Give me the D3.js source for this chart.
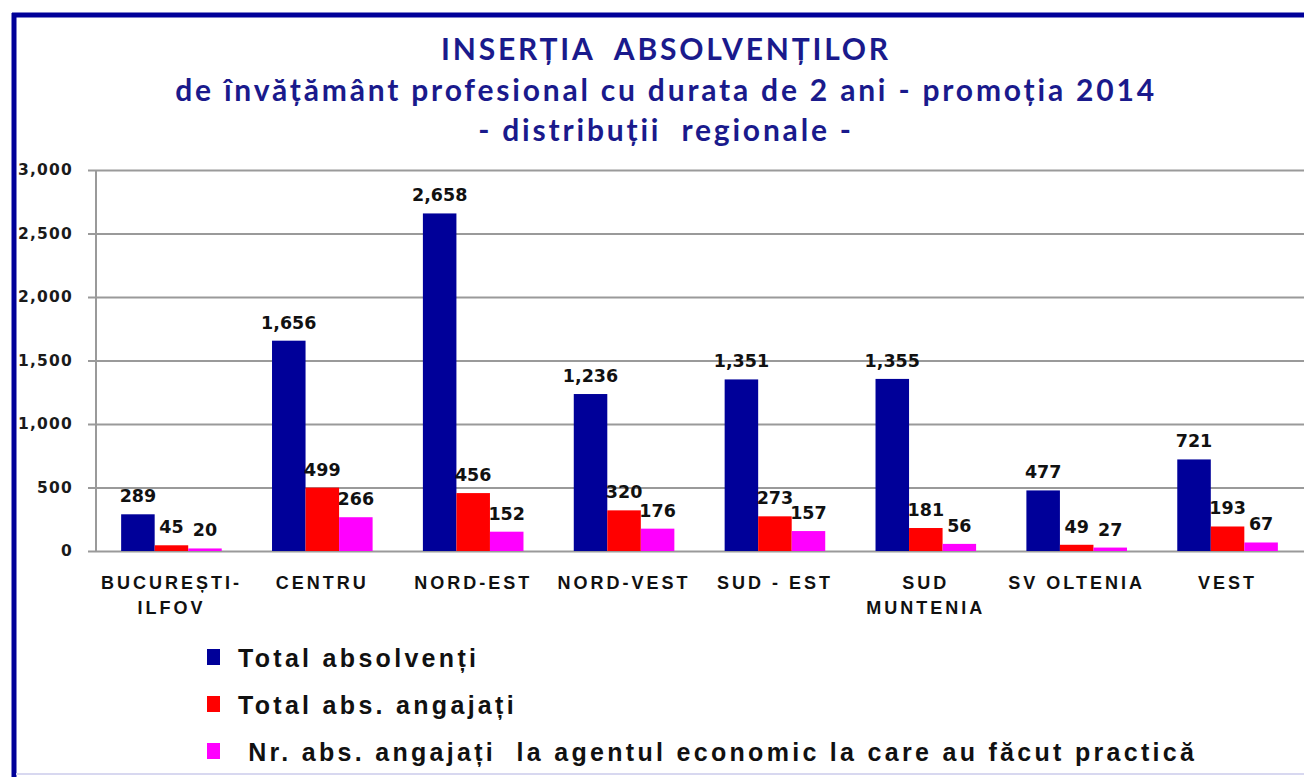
<!DOCTYPE html>
<html>
<head>
<meta charset="utf-8">
<script src="https://cdn.jsdelivr.net/npm/d3@7"></script>
<style>
  body { margin: 0; background: #fff; }
  svg { display: block; }
</style>
</head>
<body>
<svg id="chart"></svg>
<script>
const regions = [
  ['BUCUREȘTI-', 'ILFOV'],
  ['CENTRU'],
  ['NORD-EST'],
  ['NORD-VEST'],
  ['SUD - EST'],
  ['SUD', 'MUNTENIA'],
  ['SV OLTENIA'],
  ['VEST']
];
const totalAbsolventi = [289, 1656, 2658, 1236, 1351, 1355, 477, 721];
const totalAngajati = [45, 499, 456, 320, 273, 181, 49, 193];
const angajatiPractica = [20, 266, 152, 176, 157, 56, 27, 67];
const seriesNames = [
  'Total absolvenți',
  'Total abs. angajați',
  ' Nr. abs. angajați  la agentul economic la care au făcut practică'
];
const yTicks = [0, 500, 1000, 1500, 2000, 2500, 3000];
const titleLines = [
  'INSERȚIA  ABSOLVENȚILOR',
  'de învățământ profesional cu durata de 2 ani - promoția 2014',
  '- distribuții  regionale -'
];

const width = 1304, height = 777;
const colors = ['#000099', '#ff0000', '#ff00ff'];
const seriesData = [totalAbsolventi, totalAngajati, angajatiPractica];
const keys = regions.map(r => r.join(' '));

const svg = d3.select('#chart')
              .attr('width', width)
              .attr('height', height);

// frame
svg.append('line')
   .attr('x1', 14).attr('y1', 13).attr('x2', 14).attr('y2', 777)
   .attr('stroke', '#000099').attr('stroke-width', 5);
svg.append('line')
   .attr('x1', 12).attr('y1', 15).attr('x2', 1304).attr('y2', 15)
   .attr('stroke', '#000099').attr('stroke-width', 5);
svg.append('line')
   .attr('x1', 16).attr('y1', 774).attr('x2', 1304).attr('y2', 774)
   .attr('stroke', '#d8d8f0').attr('stroke-width', 2);

// title
svg.append('g')
   .selectAll('text')
   .data(titleLines)
   .enter()
   .append('text')
   .attr('x', 666)
   .attr('y', (d, i) => 60 + i * 40.5)
   .attr('text-anchor', 'middle')
   .attr('font-family', 'Lato, sans-serif')
   .attr('font-weight', 'bold')
   .attr('font-size', 30)
   .attr('letter-spacing', 2.8)
   .attr('fill', '#1a1a8c')
   .attr('xml:space', 'preserve')
   .style('white-space', 'pre')
   .text(d => d);

const plotLeft = 96, plotRight = 1303, plotTop = 170, plotBottom = 551;

const x = d3.scaleBand()
            .domain(keys)
            .range([plotLeft, plotRight])
            .paddingInner(1 / 3)
            .paddingOuter(1 / 6);

const xSeries = d3.scaleBand()
                  .domain([0, 1, 2])
                  .range([0, x.bandwidth()]);

const y = d3.scaleLinear()
            .domain([0, 3000])
            .range([plotBottom, plotTop]);

// grid + y axis
const yAxis = d3.axisLeft(y)
                .tickValues(yTicks)
                .tickFormat(d3.format(','))
                .tickSize(-(width - plotLeft))
                .tickPadding(23);

const yAxisG = svg.append('g')
                  .attr('transform', 'translate(' + plotLeft + ',0)')
                  .call(yAxis);
yAxisG.select('.domain').remove();
yAxisG.selectAll('.tick line')
      .attr('x1', -8)
      .attr('stroke', '#9a9a9a')
      .attr('stroke-width', 2);
yAxisG.selectAll('.tick text')
      .attr('font-family', 'DejaVu Sans, sans-serif')
      .attr('font-weight', 'bold')
      .attr('font-size', 15.5)
      .attr('letter-spacing', 1.2)
      .attr('fill', '#1a1a1a');

svg.append('line')
   .attr('x1', plotLeft).attr('x2', plotLeft)
   .attr('y1', plotTop).attr('y2', plotBottom)
   .attr('stroke', '#9a9a9a')
   .attr('stroke-width', 2);

// bars
const groups = svg.append('g')
                  .selectAll('g')
                  .data(keys)
                  .enter()
                  .append('g')
                  .attr('transform', d => 'translate(' + x(d) + ',0)');

const cells = (k, ci) => seriesData.map((s, si) => ({ si: si, v: s[ci] }));

groups.selectAll('rect')
      .data((d, ci) => cells(d, ci))
      .enter()
      .append('rect')
      .attr('x', d => xSeries(d.si))
      .attr('y', d => y(d.v))
      .attr('width', xSeries.bandwidth())
      .attr('height', d => plotBottom - y(d.v))
      .attr('fill', d => colors[d.si]);

groups.selectAll('text.val')
      .data((d, ci) => cells(d, ci))
      .enter()
      .append('text')
      .attr('class', 'val')
      .attr('x', d => xSeries(d.si) + xSeries.bandwidth() / 2)
      .attr('y', d => y(d.v) - 12)
      .attr('text-anchor', 'middle')
      .attr('font-family', 'DejaVu Sans, sans-serif')
      .attr('font-weight', 'bold')
      .attr('font-size', 17.5)
      .attr('fill', '#111')
      .text(d => d3.format(',')(d.v));

// category labels
svg.append('g')
   .selectAll('text')
   .data(regions)
   .enter()
   .append('text')
   .attr('x', (d, i) => x(keys[i]) + x.bandwidth() / 2)
   .attr('y', 589)
   .attr('text-anchor', 'middle')
   .attr('font-family', 'Liberation Sans, Arial, sans-serif')
   .attr('font-weight', 'bold')
   .attr('font-size', 18)
   .attr('letter-spacing', 3)
   .attr('fill', '#111')
   .selectAll('tspan')
   .data(d => d)
   .enter()
   .append('tspan')
   .attr('x', function() { return d3.select(this.parentNode).attr('x'); })
   .attr('dy', (d, i) => i === 0 ? 0 : 25)
   .text(d => d);

// legend
const legend = svg.append('g')
                  .selectAll('g')
                  .data(seriesNames)
                  .enter()
                  .append('g')
                  .attr('transform', (d, i) => 'translate(207,' + (667 + i * 47) + ')');

legend.append('rect')
      .attr('x', 0)
      .attr('y', -18)
      .attr('width', 13)
      .attr('height', 16)
      .attr('fill', (d, i) => colors[i]);

legend.append('text')
      .attr('x', 31)
      .attr('y', 0)
      .attr('font-family', 'Liberation Sans, Arial, sans-serif')
      .attr('font-weight', 'bold')
      .attr('font-size', 25)
      .attr('letter-spacing', 3.3)
      .attr('fill', '#111')
      .attr('xml:space', 'preserve')
      .style('white-space', 'pre')
      .text(d => d);
</script>
</body>
</html>
